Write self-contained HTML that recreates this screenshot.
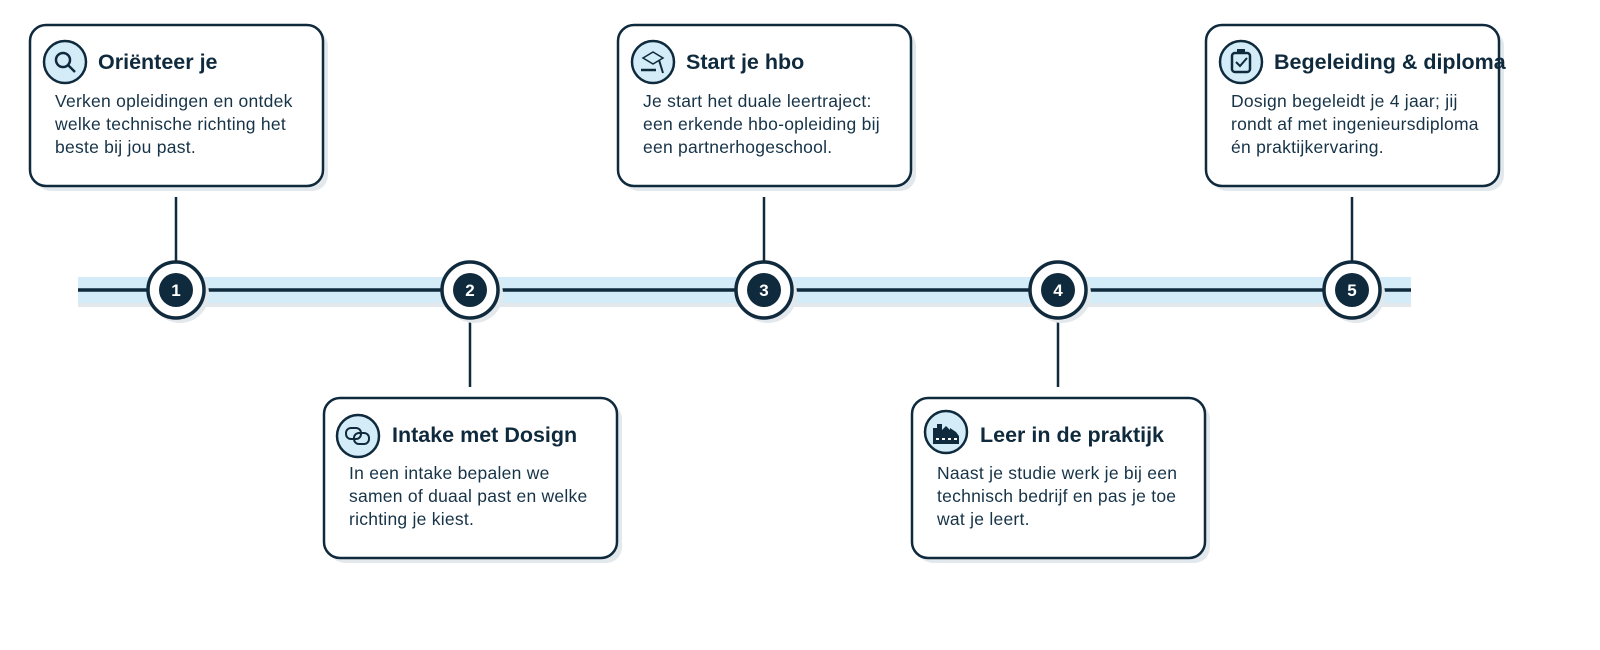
<!DOCTYPE html>
<html><head><meta charset="utf-8"><style>
html,body{margin:0;padding:0;background:#fff;}
svg{display:block;}
text{font-family:"Liberation Sans",Arial,sans-serif;fill:#0f2a3d;}
.t{font-size:21.5px;font-weight:bold;}
.b{font-size:17.5px;letter-spacing:0.25px;fill:#163347;}
.n{font-size:17px;font-weight:bold;fill:#fff;}
</style></head><body>
<svg width="1600" height="650" viewBox="0 0 1600 650" xmlns="http://www.w3.org/2000/svg">
<rect x="78" y="303" width="1333" height="4" fill="#e3e8ec"/>
<rect x="78" y="277" width="1333" height="26" fill="#d3ecf8"/>
<line x1="78" y1="290" x2="1411" y2="290" stroke="#0f2a3d" stroke-width="3.5"/>
<g stroke="#0f2a3d" stroke-width="2.5">
<line x1="176" y1="197" x2="176" y2="262"/>
<line x1="764" y1="197" x2="764" y2="262"/>
<line x1="1352" y1="197" x2="1352" y2="262"/>
<line x1="470" y1="318" x2="470" y2="387"/>
<line x1="1058" y1="318" x2="1058" y2="387"/>
</g>
<g>
<circle cx="180" cy="294" r="29" fill="#e3e8ec"/>
<circle cx="176" cy="290" r="28" fill="#fff" stroke="#0f2a3d" stroke-width="3.5"/>
<circle cx="176" cy="290" r="17" fill="#0f2a3d"/>
<text class="n" x="176" y="296" text-anchor="middle">1</text>
<circle cx="474" cy="294" r="29" fill="#e3e8ec"/>
<circle cx="470" cy="290" r="28" fill="#fff" stroke="#0f2a3d" stroke-width="3.5"/>
<circle cx="470" cy="290" r="17" fill="#0f2a3d"/>
<text class="n" x="470" y="296" text-anchor="middle">2</text>
<circle cx="768" cy="294" r="29" fill="#e3e8ec"/>
<circle cx="764" cy="290" r="28" fill="#fff" stroke="#0f2a3d" stroke-width="3.5"/>
<circle cx="764" cy="290" r="17" fill="#0f2a3d"/>
<text class="n" x="764" y="296" text-anchor="middle">3</text>
<circle cx="1062" cy="294" r="29" fill="#e3e8ec"/>
<circle cx="1058" cy="290" r="28" fill="#fff" stroke="#0f2a3d" stroke-width="3.5"/>
<circle cx="1058" cy="290" r="17" fill="#0f2a3d"/>
<text class="n" x="1058" y="296" text-anchor="middle">4</text>
<circle cx="1356" cy="294" r="29" fill="#e3e8ec"/>
<circle cx="1352" cy="290" r="28" fill="#fff" stroke="#0f2a3d" stroke-width="3.5"/>
<circle cx="1352" cy="290" r="17" fill="#0f2a3d"/>
<text class="n" x="1352" y="296" text-anchor="middle">5</text>
</g>

<g>
<rect x="35" y="30" width="293" height="161" rx="16" fill="#e3e8ec"/>
<rect x="30" y="25" width="293" height="161" rx="16" fill="#fff" stroke="#0f2a3d" stroke-width="2.5"/>
<circle cx="65" cy="62" r="21" fill="#d3ecf8" stroke="#0f2a3d" stroke-width="2.5"/>
<circle cx="63" cy="60" r="7" fill="none" stroke="#0f2a3d" stroke-width="2.5"/>
<line x1="68" y1="65" x2="75" y2="72" stroke="#0f2a3d" stroke-width="2.5"/>
<text class="t" x="98" y="69">Oriënteer je</text>
<text class="b" x="55" y="107">Verken opleidingen en ontdek</text>
<text class="b" x="55" y="130">welke technische richting het</text>
<text class="b" x="55" y="153">beste bij jou past.</text>
</g>
<g>
<rect x="623" y="30" width="293" height="161" rx="16" fill="#e3e8ec"/>
<rect x="618" y="25" width="293" height="161" rx="16" fill="#fff" stroke="#0f2a3d" stroke-width="2.5"/>
<circle cx="653" cy="62" r="21" fill="#d3ecf8" stroke="#0f2a3d" stroke-width="2.5"/>
<path d="M643 58 L653 52 L663 58 L653 64 Z" fill="none" stroke="#0f2a3d" stroke-width="1.5"/>
<line x1="656" y1="70" x2="641" y2="70" stroke="#0f2a3d" stroke-width="2.5"/>
<line x1="659" y1="60" x2="663" y2="73" stroke="#0f2a3d" stroke-width="2"/>
<text class="t" x="686" y="69">Start je hbo</text>
<text class="b" x="643" y="107">Je start het duale leertraject:</text>
<text class="b" x="643" y="130">een erkende hbo-opleiding bij</text>
<text class="b" x="643" y="153">een partnerhogeschool.</text>
</g>
<g>
<rect x="1211" y="30" width="293" height="161" rx="16" fill="#e3e8ec"/>
<rect x="1206" y="25" width="293" height="161" rx="16" fill="#fff" stroke="#0f2a3d" stroke-width="2.5"/>
<circle cx="1241" cy="62" r="21" fill="#d3ecf8" stroke="#0f2a3d" stroke-width="2.5"/>
<rect x="1232" y="53" width="18" height="19" rx="3" fill="none" stroke="#0f2a3d" stroke-width="2.5"/>
<rect x="1237" y="49" width="8" height="5" fill="#0f2a3d"/>
<path d="M1236 62 L1240 66 L1247 58" fill="none" stroke="#0f2a3d" stroke-width="2"/>
<text class="t" x="1274" y="69">Begeleiding &amp; diploma</text>
<text class="b" x="1231" y="107">Dosign begeleidt je 4 jaar; jij</text>
<text class="b" x="1231" y="130">rondt af met ingenieursdiploma</text>
<text class="b" x="1231" y="153">én praktijkervaring.</text>
</g>
<g>
<rect x="329" y="403" width="293" height="160" rx="16" fill="#e3e8ec"/>
<rect x="324" y="398" width="293" height="160" rx="16" fill="#fff" stroke="#0f2a3d" stroke-width="2.5"/>
<circle cx="358" cy="436" r="21" fill="#d3ecf8" stroke="#0f2a3d" stroke-width="2.5"/>
<rect x="346" y="428" width="15" height="11" rx="5" fill="none" stroke="#0f2a3d" stroke-width="2"/>
<rect x="354" y="433" width="15" height="11" rx="5" fill="none" stroke="#0f2a3d" stroke-width="2"/>
<text class="t" x="392" y="442">Intake met Dosign</text>
<text class="b" x="349" y="479">In een intake bepalen we</text>
<text class="b" x="349" y="502">samen of duaal past en welke</text>
<text class="b" x="349" y="525">richting je kiest.</text>
</g>
<g>
<rect x="917" y="403" width="293" height="160" rx="16" fill="#e3e8ec"/>
<rect x="912" y="398" width="293" height="160" rx="16" fill="#fff" stroke="#0f2a3d" stroke-width="2.5"/>
<circle cx="946" cy="432" r="21" fill="#d3ecf8" stroke="#0f2a3d" stroke-width="2.5"/>
<path d="M933 444 L933 428 L937 428 L937 424 L942 424 L942 430 L946 426 L950 430 L950 428 L956 432 L959 436 L959 444 Z" fill="#0f2a3d"/>
<rect x="936" y="438" width="3" height="2" fill="#fff"/><rect x="942" y="438" width="3" height="2" fill="#fff"/><rect x="948" y="438" width="3" height="2" fill="#fff"/><rect x="954" y="438" width="3" height="2" fill="#fff"/>
<text class="t" x="980" y="442">Leer in de praktijk</text>
<text class="b" x="937" y="479">Naast je studie werk je bij een</text>
<text class="b" x="937" y="502">technisch bedrijf en pas je toe</text>
<text class="b" x="937" y="525">wat je leert.</text>
</g>
</svg>
</body></html>
